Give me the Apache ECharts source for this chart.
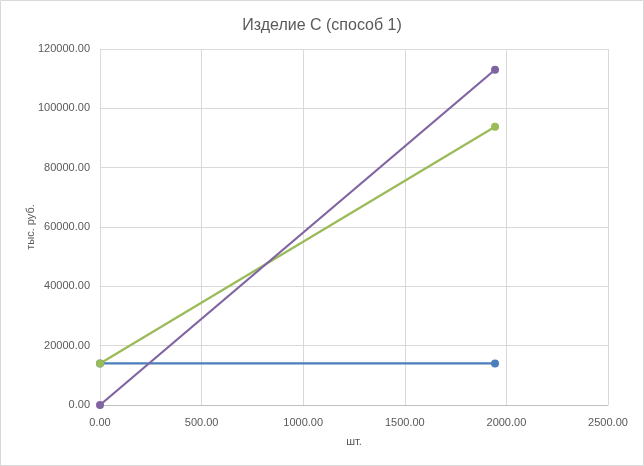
<!DOCTYPE html>
<html>
<head>
<meta charset="utf-8">
<script src="https://cdn.jsdelivr.net/npm/echarts@6/dist/echarts.min.js"></script>
<style>
html,body{margin:0;padding:0;background:#fff;}
#c{width:644px;height:466px;}
</style>
</head>
<body>
<div id="c"></div>
<script>
const title = "Изделие С (способ 1)";
const xName = "шт.";
const yName = "тыс. руб.";
const xPoints = [0, 1944];
const fixedCosts = [14000, 14000];
const totalCosts = [14000, 93800];
const revenue = [0, 113000];
const seriesColors = ["#4a7ebb", "#9bbb59", "#8064a2"];

const chart = echarts.init(document.getElementById('c'), null, {renderer: 'canvas'});
const font = "'Liberation Sans', Arial, sans-serif";
function pairs(ys){ return xPoints.map((x,i)=>[x, ys[i]]); }
function mk(name, ys, color){
  return {
    name: name, type: 'line', data: pairs(ys),
    symbol: 'circle', symbolSize: 8,
    lineStyle: {color: color, width: 2.25},
    itemStyle: {color: color},
    emphasis: {disabled: true},
    animation: false
  };
}
chart.setOption({
  animation: false,
  backgroundColor: '#fff',
  title: {
    text: title, left: 'center', top: 13,
    textStyle: {fontFamily: font, fontSize: 16, fontWeight: 'normal', color: '#595959'}
  },
  graphic: [{
    type: 'rect', shape: {x: 0.5, y: 0.5, width: 643, height: 465},
    style: {fill: 'none', stroke: '#d9d9d9', lineWidth: 1}, silent: true, z: -1
  }],
  grid: {left: 100, right: 36, top: 49, bottom: 61, containLabel: false},
  xAxis: {
    type: 'value', min: 0, max: 2500, interval: 500,
    name: xName, nameLocation: 'middle', nameGap: 31,
    nameTextStyle: {fontFamily: font, fontSize: 11, color: '#595959'},
    axisLine: {show: true, lineStyle: {color: '#bfbfbf', width: 1}},
    axisTick: {show: false},
    axisLabel: {fontFamily: font, fontSize: 11, color: '#595959', margin: 12,
      formatter: v => v.toFixed(2)},
    splitLine: {show: true, lineStyle: {color: '#d9d9d9', width: 1}}
  },
  yAxis: {
    type: 'value', min: 0, max: 120000, interval: 20000,
    name: yName, nameLocation: 'middle', nameGap: 64, nameRotate: 90,
    nameMoveOverlap: false,
    nameTextStyle: {fontFamily: font, fontSize: 11, color: '#595959'},
    axisLine: {show: false},
    axisTick: {show: false},
    axisLabel: {fontFamily: font, fontSize: 11, color: '#595959', margin: 10,
      formatter: v => v.toFixed(2)},
    splitLine: {show: true, lineStyle: {color: '#d9d9d9', width: 1}}
  },
  series: [
    mk('Постоянные затраты', fixedCosts, seriesColors[0]),
    mk('Совокупные затраты', totalCosts, seriesColors[1]),
    mk('Выручка', revenue, seriesColors[2])
  ]
});
</script>
</body>
</html>
